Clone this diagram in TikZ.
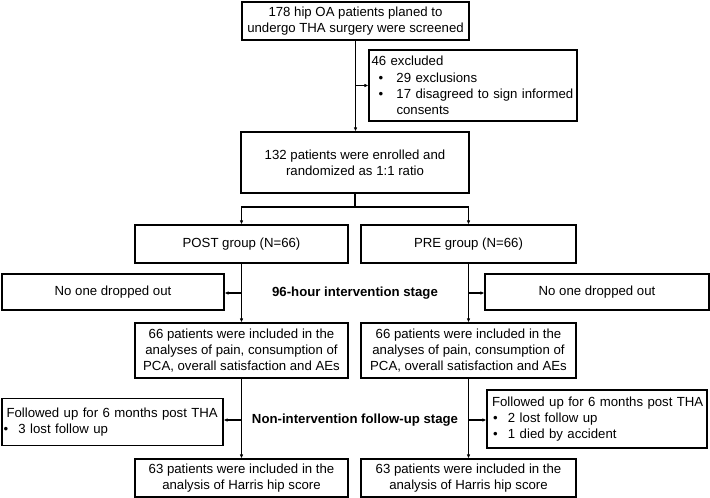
\documentclass[tikz,border=0pt]{standalone}
\usepackage{fontspec}
\setmainfont{Liberation Sans}
\usetikzlibrary{arrows.meta}

\tikzset{every picture/.style={line width=1.1pt}}
\tikzset{
	box/.style={draw, inner sep=0pt, align=center, font=\fontsize{13.2}{16.4}\selectfont},
	lbox/.style={box, align=left},
	stage/.style={font=\fontsize{13.2}{16.4}\selectfont\bfseries},
	arr/.style={-{Latex[length=4pt,width=3.5pt]}}
}
\newcommand{\bul}[2]{\hspace*{#1}\makebox[#2][l]{\textbullet}}

\begin{document}
\begin{tikzpicture}[x=1pt,y=1pt,yscale=-1,xscale=1]
	\useasboundingbox (0,0) rectangle (710,498);

	%Shape: screened
	\node[box, minimum width=227, minimum height=38] (screen) at (355.5,21) {178 hip OA patients planed to\\undergo THA surgery were screened};
	%Shape: excluded
	\node[lbox, minimum width=208, minimum height=71, text width=203, inner xsep=2.5] (excl) at (473,85.5) {46 excluded\\\bul{7pt}{18pt}29 exclusions\\\bul{7pt}{18pt}17 disagreed to sign informed\\\hspace*{25pt}consents};
	%Shape: enrolled
	\node[box, minimum width=228, minimum height=61] (enrol) at (355,162.5) {132 patients were enrolled and\\randomized as 1:1 ratio};

	%Shape: groups
	\node[box, minimum width=213, minimum height=38] (post) at (241.5,244) {POST group (N=66)};
	\node[box, minimum width=215, minimum height=38] (pre) at (468.5,244) {PRE group (N=66)};

	%Shape: dropped out
	\node[box, minimum width=222, minimum height=36] (drop1) at (113,292) {No one dropped out};
	\node[box, minimum width=224, minimum height=36] (drop2) at (597,292) {No one dropped out};
	% Text Node
	\node[stage] (stage1) at (355,293) {96-hour intervention stage};

	%Shape: included in analyses
	\node[box, minimum width=213, minimum height=55] (incl1) at (241.5,350.5) {66 patients were included in the\\analyses of pain, consumption of\\PCA, overall satisfaction and AEs};
	\node[box, minimum width=215, minimum height=55] (incl2) at (468.5,350.5) {66 patients were included in the\\analyses of pain, consumption of\\PCA, overall satisfaction and AEs};

	%Shape: follow up
	\node[lbox, minimum width=221, minimum height=47, text width=218, inner xsep=1.5] (follow1) at (112.5,422) {\hspace*{3pt}Followed up for 6 months post THA\\\bul{0pt}{15pt}3 lost follow up};
	\node[lbox, minimum width=220, minimum height=58, text width=216, inner xsep=2] (follow2) at (597,419) {\hspace*{3pt}Followed up for 6 months post THA\\\bul{4pt}{15pt}2 lost follow up\\\bul{4pt}{15pt}1 died by accident};
	% Text Node
	\node[stage] (stage2) at (355,420) {Non-intervention follow-up stage};

	%Shape: Harris hip score
	\node[box, minimum width=213, minimum height=38] (harris1) at (241.5,478) {63 patients were included in the\\analysis of Harris hip score};
	\node[box, minimum width=215, minimum height=38] (harris2) at (468.5,478) {63 patients were included in the\\analysis of Harris hip score};

	%Straight Lines
	\draw[arr] (screen.south) -- (screen.south |- enrol.north);
	\draw[arr] (screen.south |- excl.west) -- (excl.west);
	\coordinate (split) at (enrol.south |- 0,207);
	\draw (enrol.south) -- (split);
	\draw[arr] (split) -| (post.north);
	\draw[arr] (split) -| (pre.north);

	\draw[arr] (post.south) -- (incl1.north);
	\draw[arr] (pre.south) -- (incl2.north);
	\draw[arr] (post.south |- stage1) -- (stage1 -| drop1.east);
	\draw[arr] (pre.south |- stage1) -- (stage1 -| drop2.west);

	\draw[arr] (incl1.south) -- (harris1.north);
	\draw[arr] (incl2.south) -- (harris2.north);
	\draw[arr] (incl1.south |- stage2) -- (stage2 -| follow1.east);
	\draw[arr] (incl2.south |- stage2) -- (stage2 -| follow2.west);

\end{tikzpicture}
\end{document}
